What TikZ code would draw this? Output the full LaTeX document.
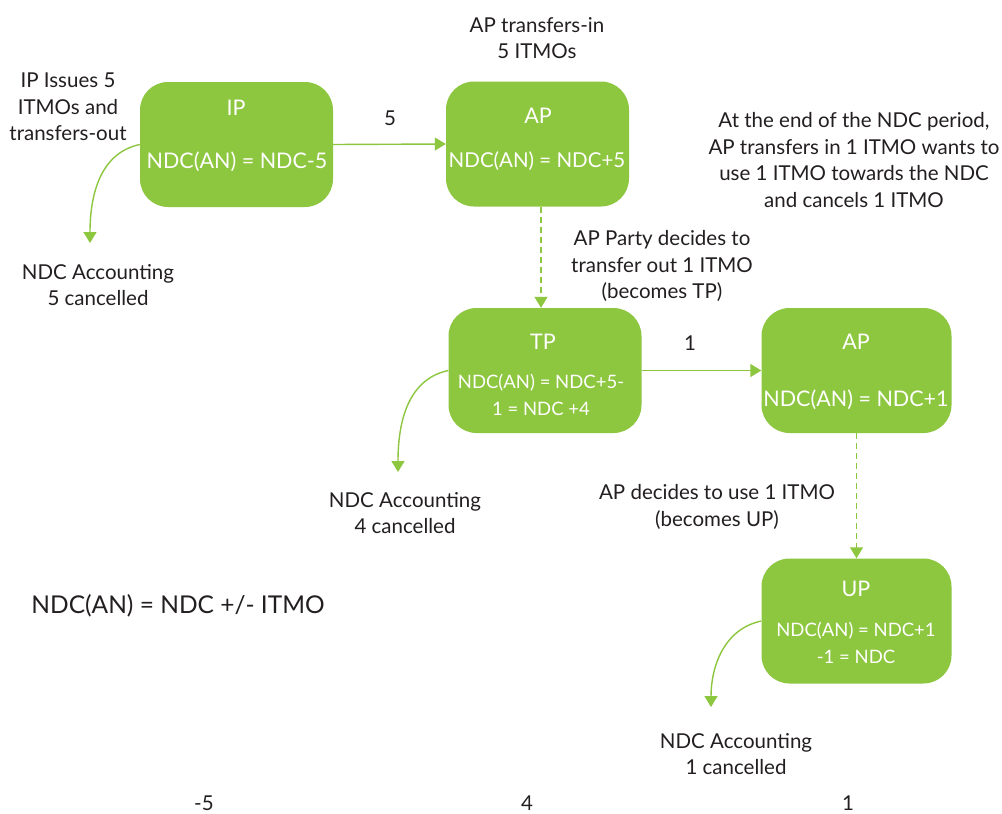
\documentclass[tikz,border=0pt]{standalone}
\usepackage{fontspec}
\setmainfont{Lato}
\usetikzlibrary{arrows.meta}
\definecolor{grn}{HTML}{8DC63F}
\definecolor{txt}{HTML}{231F20}
\tikzset{
  box/.style={fill=grn, rounded corners=28pt, minimum width=193pt, minimum height=125pt, inner sep=0pt},
  boxtxt/.style={text=white, font=\fontsize{21.5}{26}\selectfont, inner sep=0pt, align=center},
  boxsmall/.style={text=white, font=\fontsize{18.5}{27}\selectfont, inner sep=0pt, align=center},
  lbl/.style={text=txt, font=\fontsize{20.5}{26.5}\selectfont, inner sep=0pt, align=center},
  arr/.style={draw=grn, line width=1.4pt, -{Triangle[width=13pt,length=11pt]}},
  darr/.style={arr, dash pattern=on 6pt off 4pt}
}
\begin{document}
\begin{tikzpicture}[x=1pt,y=-1pt]
\useasboundingbox[fill=white] (0,0) rectangle (1002,814);

% boxes
\node[box] (ip)  at (236.5,144.5) {};
\node[box, minimum width=183pt] (ap)  at (537.5,144)   {};
\node[box] (tp)  at (545,370.5)   {};
\node[box, minimum width=190pt] (ap2) at (856.5,370.5) {};
\node[box, minimum width=190pt] (up)  at (856.5,621)   {};

% box texts
\node[boxtxt] (ipt)  at (236,108) {IP};
\node[boxtxt] (ipf)  at (237,162) {NDC(AN) = NDC-5};
\node[boxtxt] (apt)  at (538,116) {AP};
\node[boxtxt, font=\fontsize{20.5}{26}\selectfont] (apf)  at (537,161) {NDC(AN) = NDC+5};
\node[boxtxt] (tpt)  at (543,342) {TP};
\node[boxsmall] (tpf) at (541,395) {NDC(AN) = NDC+5-\\1 = NDC +4};
\node[boxtxt] (ap2t) at (856,342) {AP};
\node[boxtxt] (ap2f) at (856,400) {NDC(AN) = NDC+1};
\node[boxtxt] (upt)  at (856,589) {UP};
\node[boxsmall] (upf) at (856,643) {NDC(AN) = NDC+1\\-1 = NDC};

% connectors
\draw[arr] (ip.east) -- (ap.west);
\draw[darr] (ap.south -| 541,0) -- (tp.north -| 541,0);
\draw[arr] (tp.east) -- (ap2.west);
\draw[darr] (ap2.south) -- (up.north);

\coordinate (c1) at (90,243);
\coordinate (c2) at (398,472);
\coordinate (c3) at (711,707);
\draw[arr] (ip.west) to[out=192,in=90] (c1);
\draw[arr] (tp.west) to[out=192,in=90] (c2);
\draw[arr] (up.west) to[out=192,in=90] (c3);

% labels
\node[lbl] (l1) at (68,107) {IP Issues 5\\ITMOs and\\transfers-out};
\node[lbl] (l2) at (98,285) {NDC Accounting\\5 cancelled};
\node[lbl] (l3) at (390,118) {5};
\node[lbl] (l4) at (537,38) {AP transfers-in\\5 ITMOs};
\node[lbl] (l5) at (854,160) {At the end of the NDC period,\\AP transfers in 1 ITMO wants to\\use 1 ITMO towards the NDC\\and cancels 1 ITMO};
\node[lbl] (l6) at (662,266) {AP Party decides to\\transfer out 1 ITMO\\(becomes TP)};
\node[lbl] (l7) at (690,343) {1};
\node[lbl] (l8) at (405,513) {NDC Accounting\\4 cancelled};
\node[lbl] (l9) at (717,507) {AP decides to use 1 ITMO\\(becomes UP)};
\node[lbl, font=\fontsize{24.5}{26}\selectfont] (l10) at (178,606) {NDC(AN) = NDC +/- ITMO};
\node[lbl] (l11) at (736,754) {NDC Accounting\\1 cancelled};
\node[lbl] (n1) at (204,803) {-5};
\node[lbl] (n2) at (527,803) {4};
\node[lbl] (n3) at (848,803) {1};
\end{tikzpicture}
\end{document}
